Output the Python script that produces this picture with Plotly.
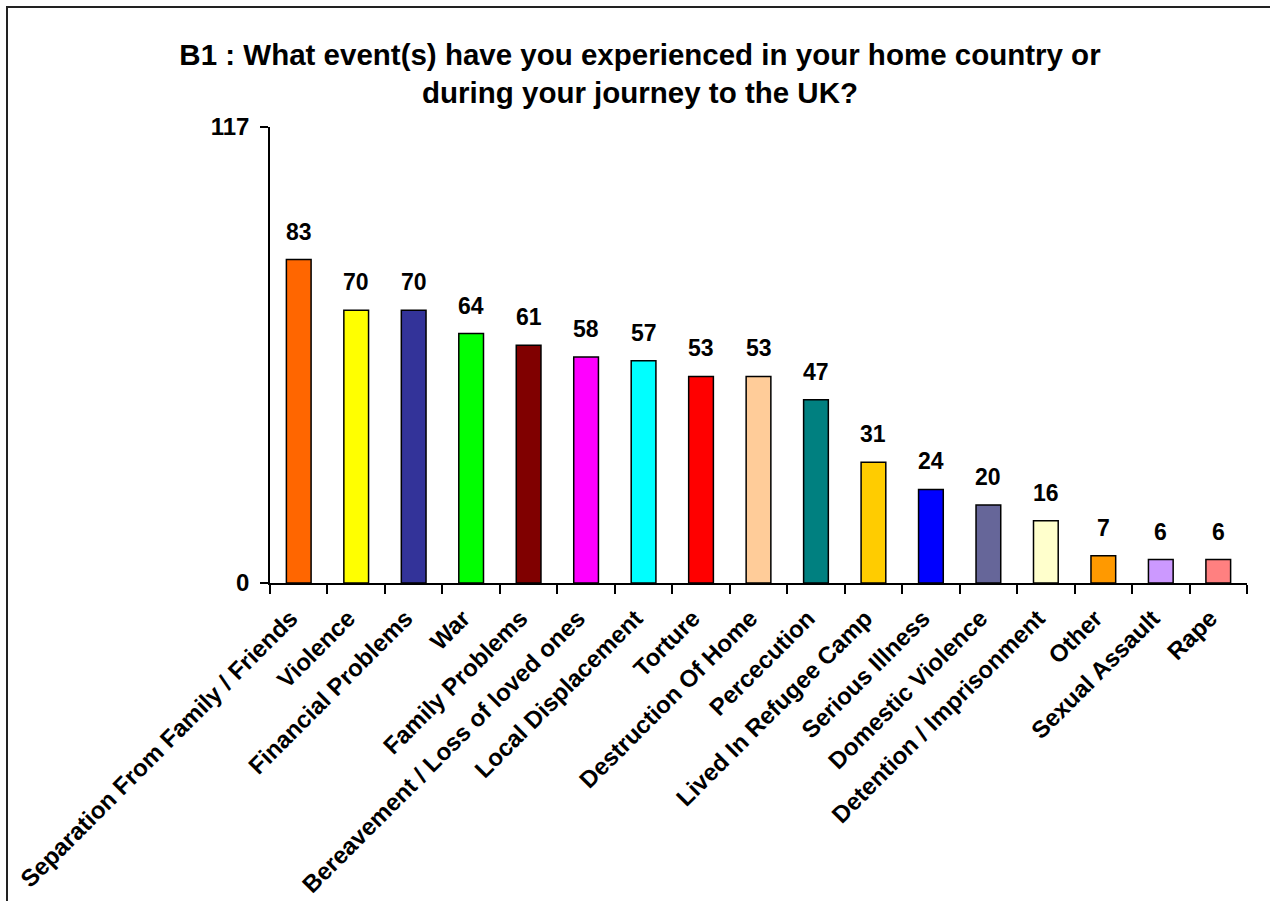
import plotly.graph_objects as go

categories = [
    "Separation From Family / Friends", "Violence", "Financial Problems", "War",
    "Family Problems", "Bereavement / Loss of loved ones", "Local Displacement",
    "Torture", "Destruction Of Home", "Percecution",
    "Lived In Refugee Camp", "Serious Illness", "Domestic Violence",
    "Detention / Imprisonment", "Other", "Sexual Assault", "Rape",
]
counts = [83, 70, 70, 64, 61, 58, 57, 53, 53, 47, 31, 24, 20, 16, 7, 6, 6]
bar_colors = [
    "#FF6600", "#FFFF00", "#333399", "#00FF00", "#800000", "#FF00FF", "#00FFFF",
    "#FF0000", "#FFCC99", "#008080", "#FFCC00", "#0000FF", "#666699", "#FFFFCC",
    "#FF9900", "#CC99FF", "#FF8080",
]
y_max = 117

FONT = "Liberation Sans, Arial, sans-serif"

fig = go.Figure(
    go.Bar(
        x=categories,
        y=counts,
        marker=dict(color=bar_colors, line=dict(color="#000000", width=1.5)),
        width=0.43,
        hoverinfo="x+y",
    )
)

# value labels above each bar
for cat, val in zip(categories, counts):
    fig.add_annotation(
        x=cat, y=val, text=f"<b>{val}</b>", showarrow=False,
        yanchor="bottom", yshift=13,
        font=dict(family=FONT, size=23, color="#000000"),
    )

L, R, T, B = 270, 23, 127, 318
W, H = 1270, 901
pw, ph = W - L - R, H - T - B

def px_to_paper_x(px):
    return (px - L) / pw

def px_to_paper_y(py):
    return (H - B - py) / ph

# outer frame
fig.add_shape(
    type="rect", xref="paper", yref="paper",
    x0=px_to_paper_x(7), x1=px_to_paper_x(1280),
    y0=px_to_paper_y(910), y1=px_to_paper_y(7),
    line=dict(color="#222222", width=2), fillcolor="rgba(0,0,0,0)",
)

fig.update_layout(
    width=W, height=H,
    margin=dict(l=L, r=R, t=T, b=B, autoexpand=False),
    paper_bgcolor="#FFFFFF",
    plot_bgcolor="#FFFFFF",
    showlegend=False,
    title=dict(
        text="<b>B1 : What event(s) have you experienced in your home country or<br>during your journey to the UK?</b>",
        x=640 / W, xref="container", xanchor="center",
        y=1 - 65 / H, yref="container", yanchor="middle",
        font=dict(family=FONT, size=29.5, color="#000000"),
    ),
    font=dict(family=FONT, color="#000000"),
    xaxis=dict(
        showline=True, linecolor="#000000", linewidth=1.5,
        ticks="outside", tickson="boundaries", ticklen=9, tickcolor="#000000", tickwidth=1.5,
        tickangle=-45, ticklabelstandoff=10, ticklabelshift=-8,
        tickfont=dict(family=FONT, size=24, color="#000000", weight="bold"),
        showgrid=False, zeroline=False,
    ),
    yaxis=dict(
        range=[0, y_max], tickvals=[0, y_max],
        showline=True, linecolor="#000000", linewidth=1.5,
        ticks="outside", ticklen=8, tickcolor="#000000", tickwidth=1.5,
        ticklabelstandoff=6,
        tickfont=dict(family=FONT, size=24, color="#000000", weight="bold"),
        showgrid=False, zeroline=False,
    ),
)

fig.write_html("out.html")
